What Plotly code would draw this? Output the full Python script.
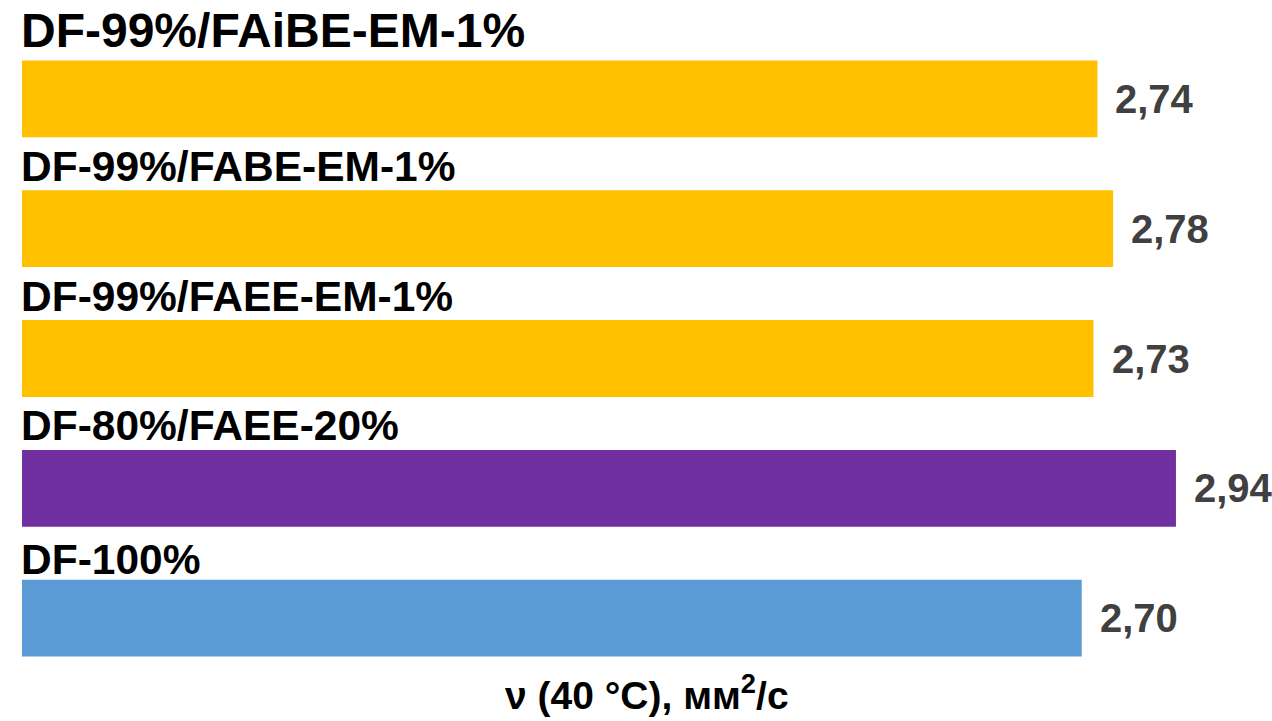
import plotly.graph_objects as go

categories = ["DF-100%", "DF-80%/FAEE-20%", "DF-99%/FAEE-EM-1%", "DF-99%/FABE-EM-1%", "DF-99%/FAiBE-EM-1%"]
values = [2.70, 2.94, 2.73, 2.78, 2.74]
value_labels = ["2,70", "2,94", "2,73", "2,78", "2,74"]
colors = ["#5B9BD5", "#7030A0", "#FFC000", "#FFC000", "#FFC000"]
label_sizes = [42.5, 42.5, 42.5, 42.5, 48]
label_shifts = [20, 24, 24, 24, 30]
axis_title = "ν (40 °C), мм<sup>2</sup>/с"

FONT = "Liberation Sans, Arial, sans-serif"
BAR_W = 0.592

fig = go.Figure()
fig.add_trace(go.Bar(
    y=list(range(len(categories))),
    x=values,
    orientation="h",
    marker=dict(color=colors, line=dict(width=0)),
    width=BAR_W,
    hoverinfo="skip",
))

annotations = []
for i, (cat, v, vl, fs, sh) in enumerate(zip(categories, values, value_labels, label_sizes, label_shifts)):
    annotations.append(dict(
        x=0, y=i + BAR_W / 2, xref="x", yref="y",
        text=cat, showarrow=False, xanchor="left", yanchor="middle",
        xshift=-3, yshift=sh,
        font=dict(family=FONT, size=fs, color="#000000", weight="bold"),
    ))
    annotations.append(dict(
        x=v, y=i, xref="x", yref="y",
        text=vl, showarrow=False, xanchor="left", yanchor="middle",
        xshift=16, yshift=0,
        font=dict(family=FONT, size=40, color="#404040", weight="bold"),
    ))

annotations.append(dict(
    x=0.5, y=0, xref="paper", yref="paper",
    text=axis_title, showarrow=False, xanchor="center", yanchor="bottom",
    xshift=0, yshift=-36,
    font=dict(family=FONT, size=39, color="#000000", weight="bold"),
))

fig.update_layout(
    width=1272, height=721,
    margin=dict(l=22, r=0, t=34, b=38),
    paper_bgcolor="white", plot_bgcolor="white",
    showlegend=False,
    xaxis=dict(range=[0, 1250 / 392.5], showgrid=False, zeroline=False,
               showticklabels=False, ticks="", showline=False),
    yaxis=dict(range=[-0.5, 4.5], showgrid=False, zeroline=False,
               showticklabels=False, ticks="", showline=False),
    annotations=annotations,
)

fig.write_html("out.html")
